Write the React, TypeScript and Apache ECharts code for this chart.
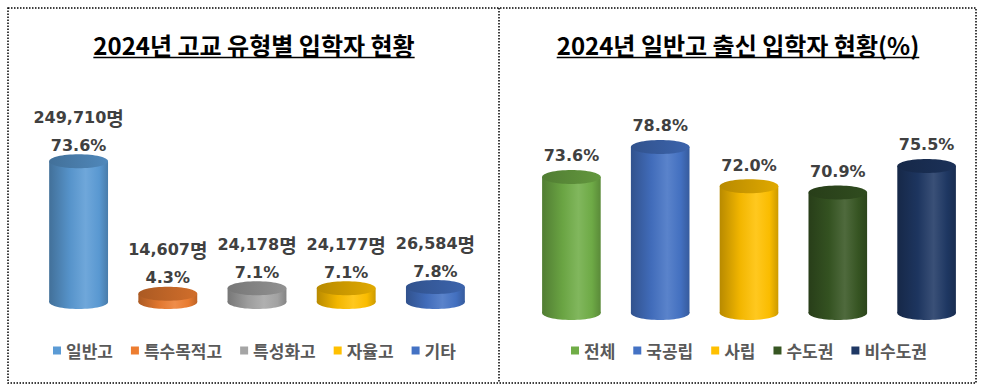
import React, { useEffect, useRef } from "react";
import * as echarts from "echarts";

const leftTitle = "2024년 고교 유형별 입학자 현황";
const rightTitle = "2024년 일반고 출신 입학자 현황(%)";

const leftCategories = ["일반고", "특수목적고", "특성화고", "자율고", "기타"];
const leftCounts = [249710, 14607, 24178, 24177, 26584];
const leftPcts = [73.6, 4.3, 7.1, 7.1, 7.8];
const leftColors = ["#5B9BD5", "#ED7D31", "#A5A5A5", "#FFC000", "#4472C4"];

const rightCategories = ["전체", "국공립", "사립", "수도권", "비수도권"];
const rightPcts = [73.6, 78.8, 72.0, 70.9, 75.5];
const rightColors = ["#70AD47", "#4472C4", "#FFC000", "#375623", "#1F3864"];

const CJK = "'Noto Sans CJK KR', sans-serif";
const NUM = "'DejaVu Sans', 'Noto Sans CJK KR', sans-serif";

function mix(hex: string, f: number): string {
  const n = parseInt(hex.slice(1), 16);
  let r = (n >> 16) & 255, g = (n >> 8) & 255, b = n & 255;
  if (f < 1) {
    r = r * f; g = g * f; b = b * f;
  } else {
    const t = f - 1;
    r = r + (255 - r) * t; g = g + (255 - g) * t; b = b + (255 - b) * t;
  }
  const h = (v: number) => Math.round(Math.max(0, Math.min(255, v))).toString(16).padStart(2, "0");
  return "#" + h(r) + h(g) + h(b);
}

function measure(text: string, font: string): number {
  const c = document.createElement("canvas").getContext("2d");
  if (!c) return text.length * 20;
  c.font = font;
  return c.measureText(text).width;
}

function makeRender(color: string, base: number, labels: (i: number) => any[]) {
  return (params: any, api: any) => {
    const idx = api.value(0);
    const val = api.value(1);
    const top = api.coord([idx, val]);
    const bot = api.coord([idx, base]);
    const bw = api.size([1, 0])[0] * 0.66;
    const cx = top[0];
    const ry = 7;
    const x0 = cx - bw / 2;
    const bodyFill = new echarts.graphic.LinearGradient(0, 0, 1, 0, [
      { offset: 0, color: mix(color, 0.72) },
      { offset: 0.35, color: mix(color, 0.95) },
      { offset: 0.62, color: mix(color, 1.12) },
      { offset: 0.85, color: mix(color, 0.98) },
      { offset: 1, color: mix(color, 0.8) },
    ]);
    const topFill = new echarts.graphic.LinearGradient(0, 0, 1, 0, [
      { offset: 0, color: mix(color, 0.72) },
      { offset: 1, color: mix(color, 0.88) },
    ]);
    const children: any[] = [
      {
        type: "ellipse",
        shape: { cx, cy: bot[1], rx: bw / 2, ry },
        style: { fill: bodyFill },
      },
      {
        type: "rect",
        shape: { x: x0, y: top[1], width: bw, height: Math.max(0, bot[1] - top[1]) },
        style: { fill: bodyFill },
      },
      {
        type: "ellipse",
        shape: { cx, cy: top[1], rx: bw / 2, ry },
        style: { fill: topFill },
      },
    ];
    for (const l of labels(idx)) {
      children.push({
        type: "text",
        x: cx,
        y: top[1] + l.dy,
        style: Object.assign({ align: "center", verticalAlign: "middle", fill: "#404040" }, l.style),
      });
    }
    return { type: "group", children };
  };
}

export default function App() {
  const ref = useRef<HTMLDivElement>(null);
  useEffect(() => {
    if (!ref.current) return;
    const chart = echarts.init(ref.current, null, { renderer: "svg" });

    const titleFont = `bold 24px 'Noto Sans CJK KR'`;
    const lw = measure(leftTitle, titleFont);
    const rw = measure(rightTitle, titleFont);
    const lcx = 254, rcx = 738;

    const leftSeries = leftCategories.map((name, i) => ({
      type: "custom",
      name,
      xAxisIndex: 0,
      yAxisIndex: 0,
      itemStyle: { color: leftColors[i] },
      data: [[i, leftCounts[i]]],
      renderItem: makeRender(leftColors[i], 0, (k: number) => [
        {
          dy: -44,
          style: {
            text: `{n|${leftCounts[k].toLocaleString("en-US")}}{u|명}`,
            rich: {
              n: { fontFamily: NUM, fontWeight: "bold", fontSize: 16, fill: "#404040", color: "#404040" },
              u: { fontFamily: CJK, fontWeight: "bold", fontSize: 19, fill: "#404040", color: "#404040" },
            },
          },
        },
        {
          dy: -16,
          style: { text: leftPcts[k].toFixed(1) + "%", fontFamily: NUM, fontWeight: "bold", fontSize: 16 },
        },
      ]),
    }));

    const rightSeries = rightCategories.map((name, i) => ({
      type: "custom",
      name,
      xAxisIndex: 1,
      yAxisIndex: 1,
      itemStyle: { color: rightColors[i] },
      data: [[i, rightPcts[i]]],
      renderItem: makeRender(rightColors[i], 50, (k: number) => [
        {
          dy: -21,
          style: { text: rightPcts[k].toFixed(1) + "%", fontFamily: NUM, fontWeight: "bold", fontSize: 16 },
        },
      ]),
    }));

    const legendText = { fontFamily: CJK, fontWeight: "bold", fontSize: 17, color: "#595959" };

    chart.setOption({
      animation: false,
      grid: [
        { left: 34, width: 446, top: 161, height: 141 },
        { left: 527, width: 444, top: 140, height: 173 },
      ],
      xAxis: [
        { type: "category", gridIndex: 0, data: leftCategories, show: false },
        { type: "category", gridIndex: 1, data: rightCategories, show: false },
      ],
      yAxis: [
        { type: "value", gridIndex: 0, min: 0, max: 250000, show: false },
        { type: "value", gridIndex: 1, min: 50, max: 80, show: false },
      ],
      legend: [
        {
          data: leftCategories,
          left: 48,
          top: 337,
          icon: "rect",
          itemWidth: 8,
          itemHeight: 8,
          itemGap: 18,
          textStyle: legendText,
          selectedMode: false,
        },
        {
          data: rightCategories,
          left: 566,
          top: 337,
          icon: "rect",
          itemWidth: 8,
          itemHeight: 8,
          itemGap: 18,
          textStyle: legendText,
          selectedMode: false,
        },
      ],
      graphic: [
        {
          type: "rect",
          shape: { x: 8, y: 8, width: 968, height: 375 },
          style: { fill: "none", stroke: "#000", lineWidth: 1.5, lineDash: [1.5, 1.5] },
        },
        {
          type: "line",
          shape: { x1: 499, y1: 8, x2: 499, y2: 383 },
          style: { stroke: "#000", lineWidth: 1.5, lineDash: [1.5, 1.5] },
        },
        {
          type: "text",
          x: lcx,
          y: 44,
          style: { text: leftTitle, fontFamily: CJK, fontWeight: "bold", fontSize: 24, fill: "#000", align: "center", verticalAlign: "middle" },
        },
        {
          type: "line",
          shape: { x1: lcx - lw / 2, y1: 57.5, x2: lcx + lw / 2, y2: 57.5 },
          style: { stroke: "#000", lineWidth: 1.5 },
        },
        {
          type: "text",
          x: rcx,
          y: 44,
          style: { text: rightTitle, fontFamily: CJK, fontWeight: "bold", fontSize: 24, fill: "#000", align: "center", verticalAlign: "middle" },
        },
        {
          type: "line",
          shape: { x1: rcx - rw / 2, y1: 57.5, x2: rcx + rw / 2, y2: 57.5 },
          style: { stroke: "#000", lineWidth: 1.5 },
        },
      ],
      series: [...leftSeries, ...rightSeries],
    });
    return () => chart.dispose();
  }, []);
  return <div ref={ref} style={{ position: "absolute", left: 0, top: 0, width: 985, height: 391 }} />;
}
